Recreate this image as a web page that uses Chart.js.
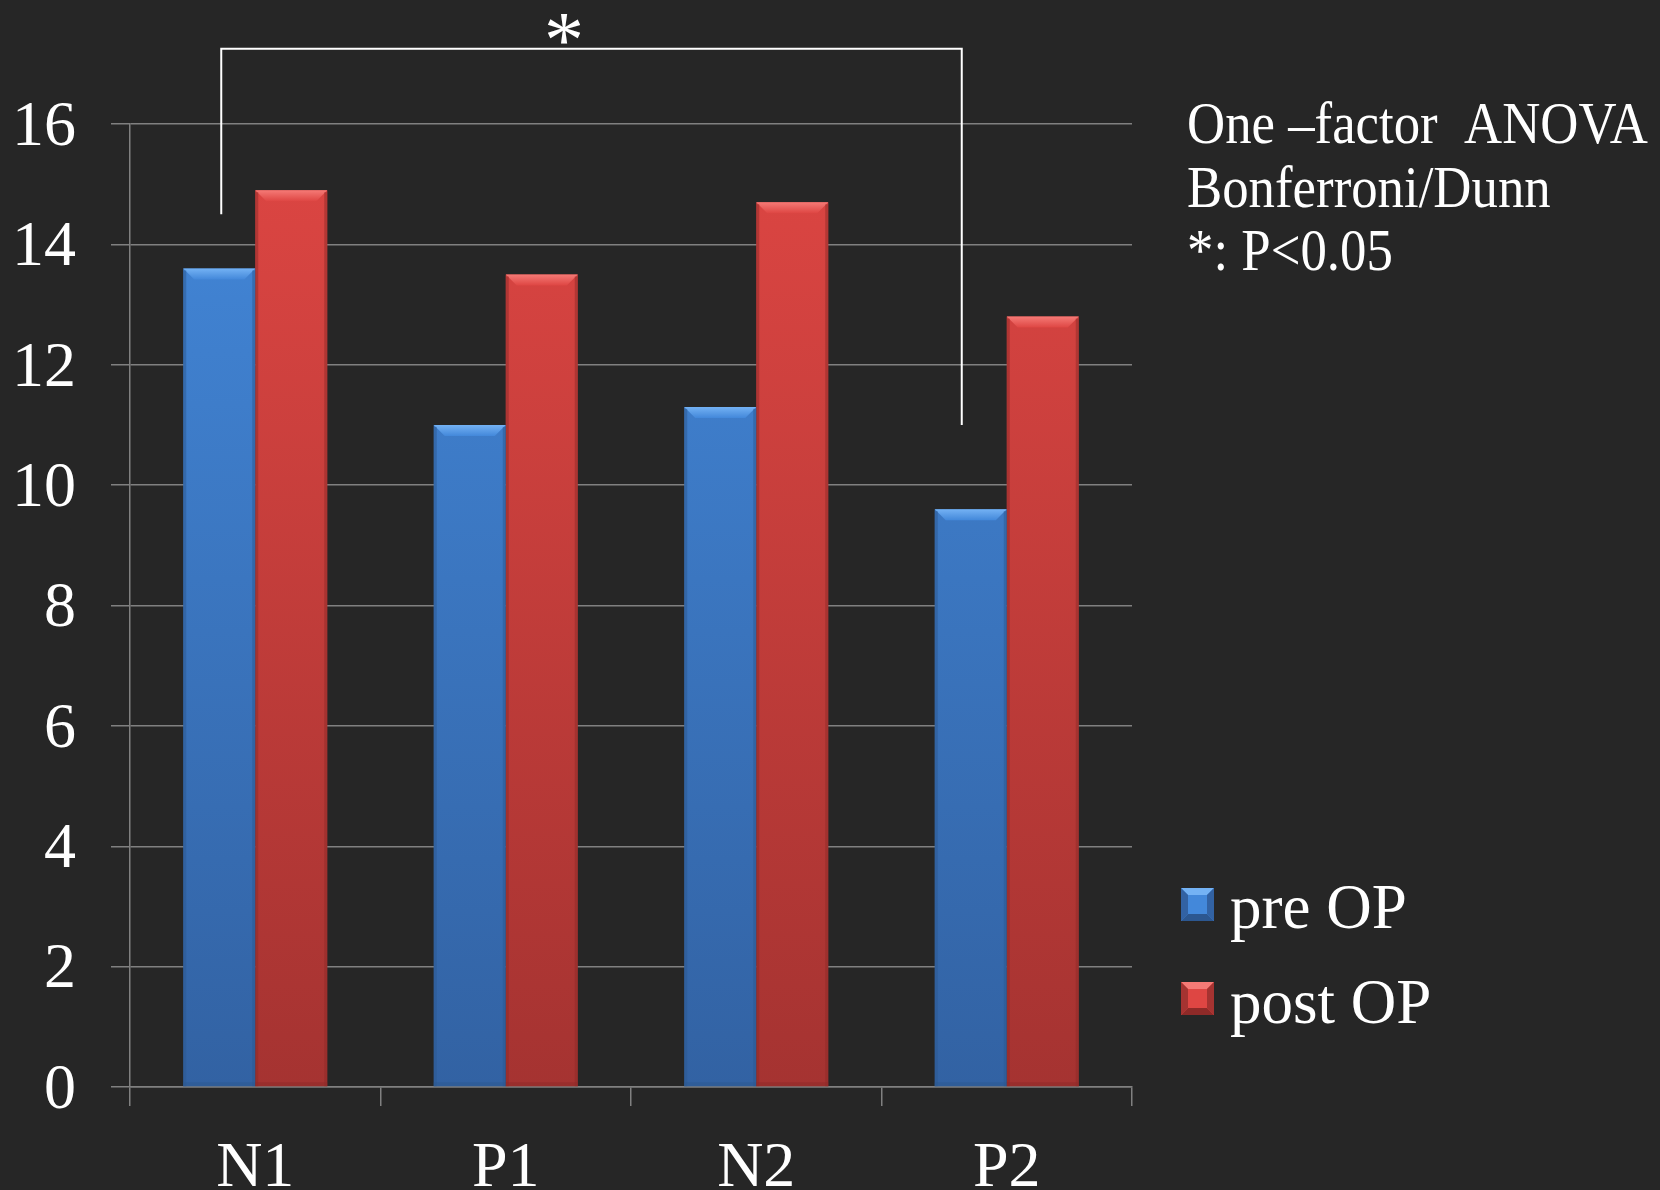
<!DOCTYPE html>
<html>
<head>
<meta charset="utf-8">
<script src="https://cdn.jsdelivr.net/npm/chart.js@4.4.0/dist/chart.umd.min.js"></script>
<style>
  html, body { margin: 0; padding: 0; background: #262626; overflow: hidden; }
  #wrap { width: 1660px; height: 1190px; }
</style>
</head>
<body>
<div id="wrap"><canvas id="chart" width="1660" height="1190"></canvas></div>
<script>
// data
const categories = ['N1', 'P1', 'N2', 'P2'];
const preOp = [13.6, 11.0, 11.3, 9.6];
const postOp = [14.9, 13.5, 14.7, 12.8];
const seriesNames = ['pre OP', 'post OP'];
const statNotes = ['One \u2013factor  ANOVA', 'Bonferroni/Dunn', '*: P<0.05'];
const sigMark = '*';

const serif = "'Liberation Serif', 'Times New Roman', serif";
const gridGray = '#808080';

// top / bottom / bevel colours per series
const palette = [
  { top: '#4388da', bottom: '#3262a3', light: '#74b2f4', dark: '#2c5790' },
  { top: '#de4643', bottom: '#a53331', light: '#f57a76', dark: '#8e2a28' }
];

function gradientFill(i) {
  return (ctx) => {
    const area = ctx.chart.chartArea;
    if (!area) return palette[i].top;
    const g = ctx.chart.ctx.createLinearGradient(0, area.top, 0, area.bottom);
    g.addColorStop(0, palette[i].top);
    g.addColorStop(1, palette[i].bottom);
    return g;
  };
}

const bgPlugin = {
  id: 'bg',
  beforeDraw(chart) {
    const c = chart.ctx;
    c.save();
    c.fillStyle = '#262626';
    c.fillRect(0, 0, chart.width, chart.height);
    c.restore();
  }
};

// bevelled top and shaded edges on each bar
const bevelPlugin = {
  id: 'bevel',
  afterDatasetsDraw(chart) {
    const c = chart.ctx;
    chart.data.datasets.forEach((ds, i) => {
      chart.getDatasetMeta(i).data.forEach(bar => {
        const l = bar.x - bar.width / 2, r = bar.x + bar.width / 2;
        const t = bar.y, b = bar.base, bv = 11;
        c.save();
        const g = c.createLinearGradient(0, t, 0, t + bv);
        g.addColorStop(0, palette[i].light);
        g.addColorStop(1, palette[i].top);
        c.fillStyle = g;
        c.beginPath();
        c.moveTo(l, t); c.lineTo(r, t); c.lineTo(r - bv, t + bv); c.lineTo(l + bv, t + bv);
        c.closePath(); c.fill();
        c.globalAlpha = 0.5;
        c.fillStyle = palette[i].dark;
        c.fillRect(l, t + 2, 3, b - t - 2);
        c.fillRect(r - 3, t + 2, 3, b - t - 2);
        c.fillRect(l, b - 4, bar.width, 4);
        c.restore();
      });
    });
  }
};

const notesPlugin = {
  id: 'notes',
  afterDraw(chart) {
    const c = chart.ctx;
    const xs = chart.scales.x, ys = chart.scales.y;
    c.save();
    // significance bracket
    const xl = xs.getPixelForValue(0) - 34;
    const xr = xs.getPixelForValue(3) - 45;
    const yt = ys.getPixelForValue(17.25);
    c.strokeStyle = '#ffffff';
    c.lineWidth = 2;
    c.beginPath();
    c.moveTo(xl, ys.getPixelForValue(14.5));
    c.lineTo(xl, yt);
    c.lineTo(xr, yt);
    c.lineTo(xr, ys.getPixelForValue(11.0));
    c.stroke();
    c.fillStyle = '#ffffff';
    c.textAlign = 'center';
    c.textBaseline = 'alphabetic';
    c.font = '80px ' + serif;
    c.fillText(sigMark, 564, 67);

    // statistics note, slightly condensed like the original
    c.textAlign = 'left';
    c.font = '59px ' + serif;
    statNotes.forEach((t, k) => {
      c.save();
      c.translate(1187, 143 + k * 63.5);
      c.scale(0.895, 1);
      c.fillText(t, 0, 0);
      c.restore();
    });

    // legend
    c.font = '63px ' + serif;
    chart.data.datasets.forEach((ds, i) => {
      const bx = 1181, by = 888 + i * 94, s = 33, inset = 7;
      const p = palette[i];
      c.fillStyle = p.top;
      c.fillRect(bx, by, s, s);
      c.fillStyle = p.light;
      c.beginPath(); c.moveTo(bx, by); c.lineTo(bx + s, by); c.lineTo(bx + s - inset, by + inset); c.lineTo(bx + inset, by + inset); c.closePath(); c.fill();
      c.fillStyle = p.dark;
      c.beginPath(); c.moveTo(bx, by + s); c.lineTo(bx + s, by + s); c.lineTo(bx + s - inset, by + s - inset); c.lineTo(bx + inset, by + s - inset); c.closePath(); c.fill();
      c.fillStyle = p.bottom;
      c.beginPath(); c.moveTo(bx, by); c.lineTo(bx + inset, by + inset); c.lineTo(bx + inset, by + s - inset); c.lineTo(bx, by + s); c.closePath(); c.fill();
      c.beginPath(); c.moveTo(bx + s, by); c.lineTo(bx + s - inset, by + inset); c.lineTo(bx + s - inset, by + s - inset); c.lineTo(bx + s, by + s); c.closePath(); c.fill();
      c.fillStyle = '#ffffff';
      c.fillText(ds.label, 1230, 928 + i * 95);
    });
    c.restore();
  }
};

new Chart(document.getElementById('chart'), {
  type: 'bar',
  data: {
    labels: categories,
    datasets: [
      { label: seriesNames[0], data: preOp, backgroundColor: gradientFill(0), borderWidth: 0 },
      { label: seriesNames[1], data: postOp, backgroundColor: gradientFill(1), borderWidth: 0 }
    ]
  },
  options: {
    responsive: false,
    animation: false,
    devicePixelRatio: 1,
    barPercentage: 1,
    categoryPercentage: 0.575,
    layout: { padding: { top: 124, right: 528, left: 0, bottom: 0 } },
    plugins: {
      legend: { display: false },
      tooltip: { enabled: false }
    },
    scales: {
      x: {
        grid: { drawOnChartArea: false, drawTicks: true, tickLength: 19, color: gridGray, lineWidth: 1.5, offset: true },
        border: { color: gridGray, width: 1.5 },
        ticks: { color: '#ffffff', font: { family: serif, size: 64 }, padding: 25 },
        afterFit(s) { s.height = 103; }
      },
      y: {
        min: 0,
        max: 16,
        grid: { color: gridGray, lineWidth: 1.5, tickLength: 19 },
        border: { color: gridGray, width: 1.5 },
        ticks: { stepSize: 2, color: '#ffffff', font: { family: serif, size: 64, lineHeight: 1.05 }, padding: 35, labelOffset: 4 },
        afterFit(s) { s.width = 130; }
      }
    }
  },
  plugins: [bgPlugin, bevelPlugin, notesPlugin]
});
</script>
</body>
</html>
